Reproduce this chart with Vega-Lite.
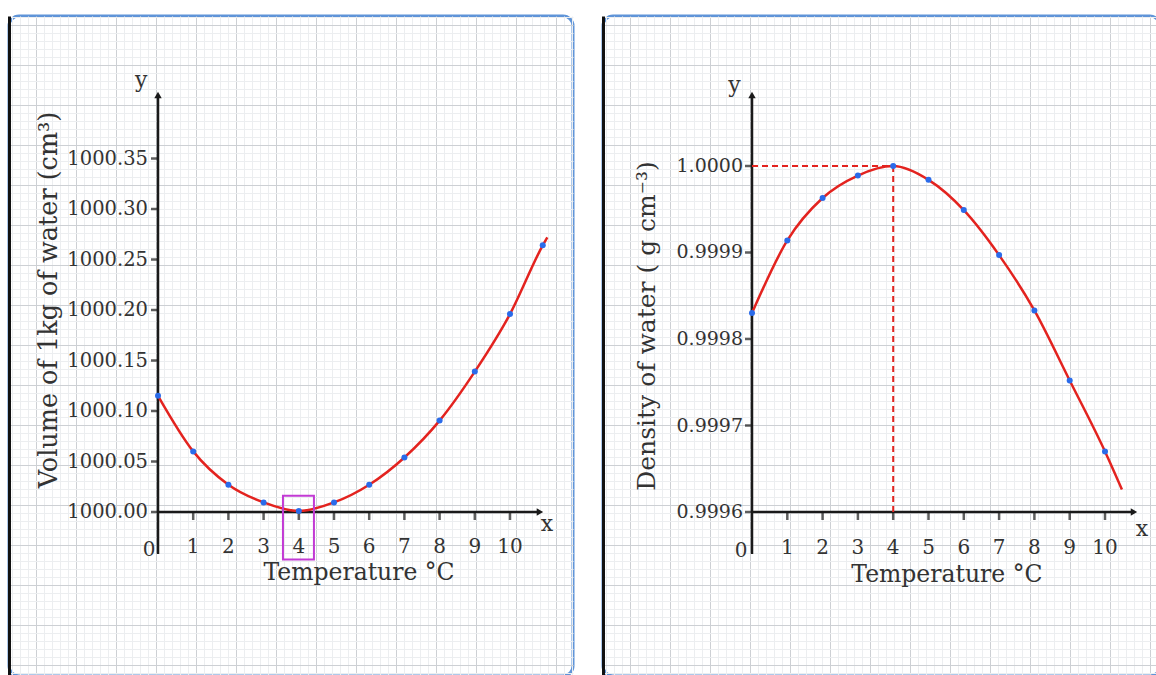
{
  "$schema": "https://vega.github.io/schema/vega-lite/v6.json",
  "padding": {"left": 7, "top": 14, "right": 0, "bottom": 0},
  "spacing": 26,
  "datasets": {
    "vol": [
      {"t": 0, "v": 1000.115, "kind": "point"},
      {"t": 1, "v": 1000.06, "kind": "point"},
      {"t": 2, "v": 1000.027, "kind": "point"},
      {"t": 3, "v": 1000.0095, "kind": "point"},
      {"t": 4, "v": 1000.001, "kind": "point"},
      {"t": 5, "v": 1000.0095, "kind": "point"},
      {"t": 6, "v": 1000.027, "kind": "point"},
      {"t": 7, "v": 1000.054, "kind": "point"},
      {"t": 8, "v": 1000.0905, "kind": "point"},
      {"t": 9, "v": 1000.139, "kind": "point"},
      {"t": 10, "v": 1000.196, "kind": "point"},
      {"t": 10.93, "v": 1000.264, "kind": "point"},
      {"t": 11.06, "v": 1000.272, "kind": "end"}
    ],
    "dens": [
      {"t": 0, "d": 0.99983, "kind": "point"},
      {"t": 1, "d": 0.999914, "kind": "point"},
      {"t": 2, "d": 0.999963, "kind": "point"},
      {"t": 3, "d": 0.999989, "kind": "point"},
      {"t": 4, "d": 1.0, "kind": "point"},
      {"t": 5, "d": 0.999984, "kind": "point"},
      {"t": 6, "d": 0.999949, "kind": "point"},
      {"t": 7, "d": 0.999897, "kind": "point"},
      {"t": 8, "d": 0.999833, "kind": "point"},
      {"t": 9, "d": 0.999752, "kind": "point"},
      {"t": 10, "d": 0.99967, "kind": "point"},
      {"t": 10.48, "d": 0.999626, "kind": "end"}
    ],
    "xt": [{"t": 1}, {"t": 2}, {"t": 3}, {"t": 4}, {"t": 5}, {"t": 6}, {"t": 7}, {"t": 8}, {"t": 9}, {"t": 10}],
    "vt": [{"v": 1000.0}, {"v": 1000.05}, {"v": 1000.1}, {"v": 1000.15}, {"v": 1000.2}, {"v": 1000.25}, {"v": 1000.3}, {"v": 1000.35}],
    "dt": [{"d": 0.9996}, {"d": 0.9997}, {"d": 0.9998}, {"d": 0.9999}, {"d": 1.0}]
  },
  "hconcat": [
    {
      "width": 564,
      "height": 660,
      "resolve": {"scale": {"x": "independent", "y": "independent"}},
      "layer": [
        {
          "data": {"values": []},
          "mark": {"type": "point", "opacity": 0},
          "encoding": {
            "x": {"field": "gx", "type": "quantitative", "scale": {"domain": [-3.375, 67.125], "nice": false, "zero": false},
              "axis": {"grid": true, "tickCount": 70, "labels": false, "ticks": false, "domain": false, "title": null,
                "gridColor": {"condition": {"test": "datum.value % 5 === 0", "value": "#cdd0d4"}, "value": "#eceef0"}}},
            "y": {"field": "gy", "type": "quantitative", "scale": {"domain": [-1.125, 81.375], "nice": false, "zero": false, "reverse": true},
              "axis": {"grid": true, "tickCount": 82, "labels": false, "ticks": false, "domain": true, "domainColor": "#111111", "domainWidth": 3, "title": null,
                "gridColor": {"condition": {"test": "datum.value % 5 === 0", "value": "#cdd0d4"}, "value": "#eceef0"}}}
          }
        },
        {
          "data": {"values": [{}]},
          "layer": [
            {
              "mark": {"type": "rule", "color": "#1a1a1a", "strokeWidth": 2.5},
              "encoding": {
                "x": {"datum": 0, "type": "quantitative", "scale": {"domain": [-4.233, 11.7898], "nice": false, "zero": false}, "axis": null},
                "y": {"datum": 999.9584, "type": "quantitative", "scale": {"domain": [999.83762, 1000.4911], "nice": false, "zero": false}, "axis": null},
                "y2": {"datum": 1000.41}
              }
            },
            {
              "mark": {"type": "rule", "color": "#1a1a1a", "strokeWidth": 2.5},
              "encoding": {
                "x": {"datum": 0, "type": "quantitative", "axis": null},
                "x2": {"datum": 10.85},
                "y": {"datum": 1000, "type": "quantitative", "axis": null}
              }
            },
            {
              "mark": {"type": "point", "shape": "triangle-up", "filled": true, "color": "#1a1a1a", "size": 55, "opacity": 1},
              "encoding": {
                "x": {"datum": 0, "type": "quantitative", "axis": null},
                "y": {"datum": 1000.4129, "type": "quantitative", "axis": null}
              }
            },
            {
              "mark": {"type": "point", "shape": "triangle-right", "filled": true, "color": "#1a1a1a", "size": 55, "opacity": 1},
              "encoding": {
                "x": {"datum": 10.85, "type": "quantitative", "axis": null},
                "y": {"datum": 1000, "type": "quantitative", "axis": null}
              }
            },
            {
              "data": {"name": "xt"},
              "mark": {"type": "tick", "orient": "vertical", "color": "#1a1a1a", "size": 8, "thickness": 2.5, "yOffset": 4},
              "encoding": {
                "x": {"field": "t", "type": "quantitative", "axis": null},
                "y": {"datum": 1000, "type": "quantitative", "axis": null}
              }
            },
            {
              "data": {"name": "xt"},
              "mark": {"type": "text", "fontSize": 20, "dy": 35, "baseline": "middle", "align": "center"},
              "encoding": {
                "x": {"field": "t", "type": "quantitative", "axis": null},
                "y": {"datum": 1000, "type": "quantitative", "axis": null},
                "text": {"field": "t", "type": "quantitative", "format": "d"}
              }
            },
            {
              "data": {"name": "vt"},
              "mark": {"type": "tick", "orient": "horizontal", "color": "#1a1a1a", "size": 7, "thickness": 2.5, "xOffset": -3.5},
              "encoding": {
                "x": {"datum": 0, "type": "quantitative", "axis": null},
                "y": {"field": "v", "type": "quantitative", "axis": null}
              }
            },
            {
              "data": {"name": "vt"},
              "mark": {"type": "text", "fontSize": 19.5, "dx": -10, "baseline": "middle", "align": "right"},
              "encoding": {
                "x": {"datum": 0, "type": "quantitative", "axis": null},
                "y": {"field": "v", "type": "quantitative", "axis": null},
                "text": {"field": "v", "type": "quantitative", "format": ".2f"}
              }
            },
            {
              "mark": {"type": "text", "text": "0", "fontSize": 20, "baseline": "middle", "align": "center"},
              "encoding": {
                "x": {"datum": -0.25, "type": "quantitative", "axis": null},
                "y": {"datum": 999.9624, "type": "quantitative", "axis": null}
              }
            },
            {
              "mark": {"type": "text", "text": "y", "fontSize": 22, "baseline": "middle", "align": "center"},
              "encoding": {
                "x": {"datum": -0.48, "type": "quantitative", "axis": null},
                "y": {"datum": 1000.4277, "type": "quantitative", "axis": null}
              }
            },
            {
              "mark": {"type": "text", "text": "x", "fontSize": 22, "baseline": "middle", "align": "center"},
              "encoding": {
                "x": {"datum": 11.05, "type": "quantitative", "axis": null},
                "y": {"datum": 999.988, "type": "quantitative", "axis": null}
              }
            },
            {
              "mark": {"type": "text", "text": "Temperature °C", "fontSize": 23.5, "baseline": "middle", "align": "center"},
              "encoding": {
                "x": {"datum": 5.71, "type": "quantitative", "axis": null},
                "y": {"datum": 999.9396, "type": "quantitative", "axis": null}
              }
            },
            {
              "mark": {"type": "text", "text": "Volume of 1kg of water  (cm³)", "fontSize": 25.5, "angle": 270, "baseline": "middle", "align": "center"},
              "encoding": {
                "x": {"datum": -3.1, "type": "quantitative", "axis": null},
                "y": {"datum": 1000.2099, "type": "quantitative", "axis": null}
              }
            },
            {
              "data": {"name": "vol"},
              "mark": {"type": "line", "color": "#e3231f", "strokeWidth": 2.5, "interpolate": "monotone"},
              "encoding": {
                "x": {"field": "t", "type": "quantitative", "axis": null},
                "y": {"field": "v", "type": "quantitative", "axis": null}
              }
            },
            {
              "data": {"name": "vol"},
              "transform": [{"filter": "datum.kind === 'point'"}],
              "mark": {"type": "point", "filled": true, "color": "#2a6bea", "size": 36, "opacity": 1},
              "encoding": {
                "x": {"field": "t", "type": "quantitative", "axis": null},
                "y": {"field": "v", "type": "quantitative", "axis": null}
              }
            },
            {
              "mark": {"type": "rect", "fill": null, "fillOpacity": 0, "stroke": "#c23ad4", "strokeWidth": 2},
              "encoding": {
                "x": {"datum": 3.55, "type": "quantitative", "axis": null},
                "x2": {"datum": 4.43},
                "y": {"datum": 999.953, "type": "quantitative", "axis": null},
                "y2": {"datum": 1000.016}
              }
            }
          ]
        }
      ]
    },
    {
      "width": 557,
      "height": 660,
      "resolve": {"scale": {"x": "independent", "y": "independent"}},
      "layer": [
        {
          "data": {"values": []},
          "mark": {"type": "point", "opacity": 0},
          "encoding": {
            "x": {"field": "gx", "type": "quantitative", "scale": {"domain": [-3.375, 66.25], "nice": false, "zero": false},
              "axis": {"grid": true, "tickCount": 69, "labels": false, "ticks": false, "domain": false, "title": null,
                "gridColor": {"condition": {"test": "datum.value % 5 === 0", "value": "#cdd0d4"}, "value": "#eceef0"}}},
            "y": {"field": "gy", "type": "quantitative", "scale": {"domain": [-1.125, 81.375], "nice": false, "zero": false, "reverse": true},
              "axis": {"grid": true, "tickCount": 82, "labels": false, "ticks": false, "domain": true, "domainColor": "#111111", "domainWidth": 3, "title": null,
                "gridColor": {"condition": {"test": "datum.value % 5 === 0", "value": "#cdd0d4"}, "value": "#eceef0"}}}
          }
        },
        {
          "data": {"values": [{}]},
          "layer": [
            {
              "mark": {"type": "rule", "color": "#1a1a1a", "strokeWidth": 2.5},
              "encoding": {
                "x": {"datum": 0, "type": "quantitative", "scale": {"domain": [-4.221, 11.5581], "nice": false, "zero": false}, "axis": null},
                "y": {"datum": 0.99955144, "type": "quantitative", "scale": {"domain": [0.999410405, 1.000173410], "nice": false, "zero": false}, "axis": null},
                "y2": {"datum": 1.0000809}
              }
            },
            {
              "mark": {"type": "rule", "color": "#1a1a1a", "strokeWidth": 2.5},
              "encoding": {
                "x": {"datum": 0, "type": "quantitative", "axis": null},
                "x2": {"datum": 10.82},
                "y": {"datum": 0.9996, "type": "quantitative", "axis": null}
              }
            },
            {
              "mark": {"type": "point", "shape": "triangle-up", "filled": true, "color": "#1a1a1a", "size": 55, "opacity": 1},
              "encoding": {
                "x": {"datum": 0, "type": "quantitative", "axis": null},
                "y": {"datum": 1.0000821, "type": "quantitative", "axis": null}
              }
            },
            {
              "mark": {"type": "point", "shape": "triangle-right", "filled": true, "color": "#1a1a1a", "size": 55, "opacity": 1},
              "encoding": {
                "x": {"datum": 10.82, "type": "quantitative", "axis": null},
                "y": {"datum": 0.9996, "type": "quantitative", "axis": null}
              }
            },
            {
              "data": {"name": "xt"},
              "mark": {"type": "tick", "orient": "vertical", "color": "#1a1a1a", "size": 8, "thickness": 2.5, "yOffset": 4},
              "encoding": {
                "x": {"field": "t", "type": "quantitative", "axis": null},
                "y": {"datum": 0.9996, "type": "quantitative", "axis": null}
              }
            },
            {
              "data": {"name": "xt"},
              "mark": {"type": "text", "fontSize": 20, "dy": 36, "baseline": "middle", "align": "center"},
              "encoding": {
                "x": {"field": "t", "type": "quantitative", "axis": null},
                "y": {"datum": 0.9996, "type": "quantitative", "axis": null},
                "text": {"field": "t", "type": "quantitative", "format": "d"}
              }
            },
            {
              "data": {"name": "dt"},
              "mark": {"type": "tick", "orient": "horizontal", "color": "#1a1a1a", "size": 7, "thickness": 2.5, "xOffset": -3.5},
              "encoding": {
                "x": {"datum": 0, "type": "quantitative", "axis": null},
                "y": {"field": "d", "type": "quantitative", "axis": null}
              }
            },
            {
              "data": {"name": "dt"},
              "mark": {"type": "text", "fontSize": 19, "dx": -9, "baseline": "middle", "align": "right"},
              "encoding": {
                "x": {"datum": 0, "type": "quantitative", "axis": null},
                "y": {"field": "d", "type": "quantitative", "axis": null},
                "text": {"field": "d", "type": "quantitative", "format": ".4f"}
              }
            },
            {
              "mark": {"type": "text", "text": "0", "fontSize": 20, "baseline": "middle", "align": "center"},
              "encoding": {
                "x": {"datum": -0.31, "type": "quantitative", "axis": null},
                "y": {"datum": 0.999554913, "type": "quantitative", "axis": null}
              }
            },
            {
              "mark": {"type": "text", "text": "y", "fontSize": 22, "baseline": "middle", "align": "center"},
              "encoding": {
                "x": {"datum": -0.5, "type": "quantitative", "axis": null},
                "y": {"datum": 1.000093642, "type": "quantitative", "axis": null}
              }
            },
            {
              "mark": {"type": "text", "text": "x", "fontSize": 22, "baseline": "middle", "align": "center"},
              "encoding": {
                "x": {"datum": 11.05, "type": "quantitative", "axis": null},
                "y": {"datum": 0.999580347, "type": "quantitative", "axis": null}
              }
            },
            {
              "mark": {"type": "text", "text": "Temperature °C", "fontSize": 23.5, "baseline": "middle", "align": "center"},
              "encoding": {
                "x": {"datum": 5.52, "type": "quantitative", "axis": null},
                "y": {"datum": 0.999527168, "type": "quantitative", "axis": null}
              }
            },
            {
              "mark": {"type": "text", "text": "Density of water  ( g cm⁻³)", "fontSize": 25, "angle": 270, "baseline": "middle", "align": "center"},
              "encoding": {
                "x": {"datum": -2.97, "type": "quantitative", "axis": null},
                "y": {"datum": 0.999815029, "type": "quantitative", "axis": null}
              }
            },
            {
              "mark": {"type": "rule", "color": "#e3231f", "strokeWidth": 2, "strokeDash": [6, 4]},
              "encoding": {
                "x": {"datum": 0, "type": "quantitative", "axis": null},
                "x2": {"datum": 4},
                "y": {"datum": 1.0, "type": "quantitative", "axis": null}
              }
            },
            {
              "mark": {"type": "rule", "color": "#e3231f", "strokeWidth": 2, "strokeDash": [6, 4]},
              "encoding": {
                "x": {"datum": 4, "type": "quantitative", "axis": null},
                "y": {"datum": 0.9996, "type": "quantitative", "axis": null},
                "y2": {"datum": 1.0}
              }
            },
            {
              "data": {"name": "dens"},
              "mark": {"type": "line", "color": "#e3231f", "strokeWidth": 2.5, "interpolate": "monotone"},
              "encoding": {
                "x": {"field": "t", "type": "quantitative", "axis": null},
                "y": {"field": "d", "type": "quantitative", "axis": null}
              }
            },
            {
              "data": {"name": "dens"},
              "transform": [{"filter": "datum.kind === 'point'"}],
              "mark": {"type": "point", "filled": true, "color": "#2a6bea", "size": 36, "opacity": 1},
              "encoding": {
                "x": {"field": "t", "type": "quantitative", "axis": null},
                "y": {"field": "d", "type": "quantitative", "axis": null}
              }
            }
          ]
        }
      ]
    }
  ],
  "config": {
    "view": {"stroke": "#5f94d8", "strokeWidth": 3, "cornerRadius": 10, "fill": "#ffffff"},
    "text": {"font": "DejaVu Serif", "fill": "#333333"},
    "background": "#ffffff"
  }
}
